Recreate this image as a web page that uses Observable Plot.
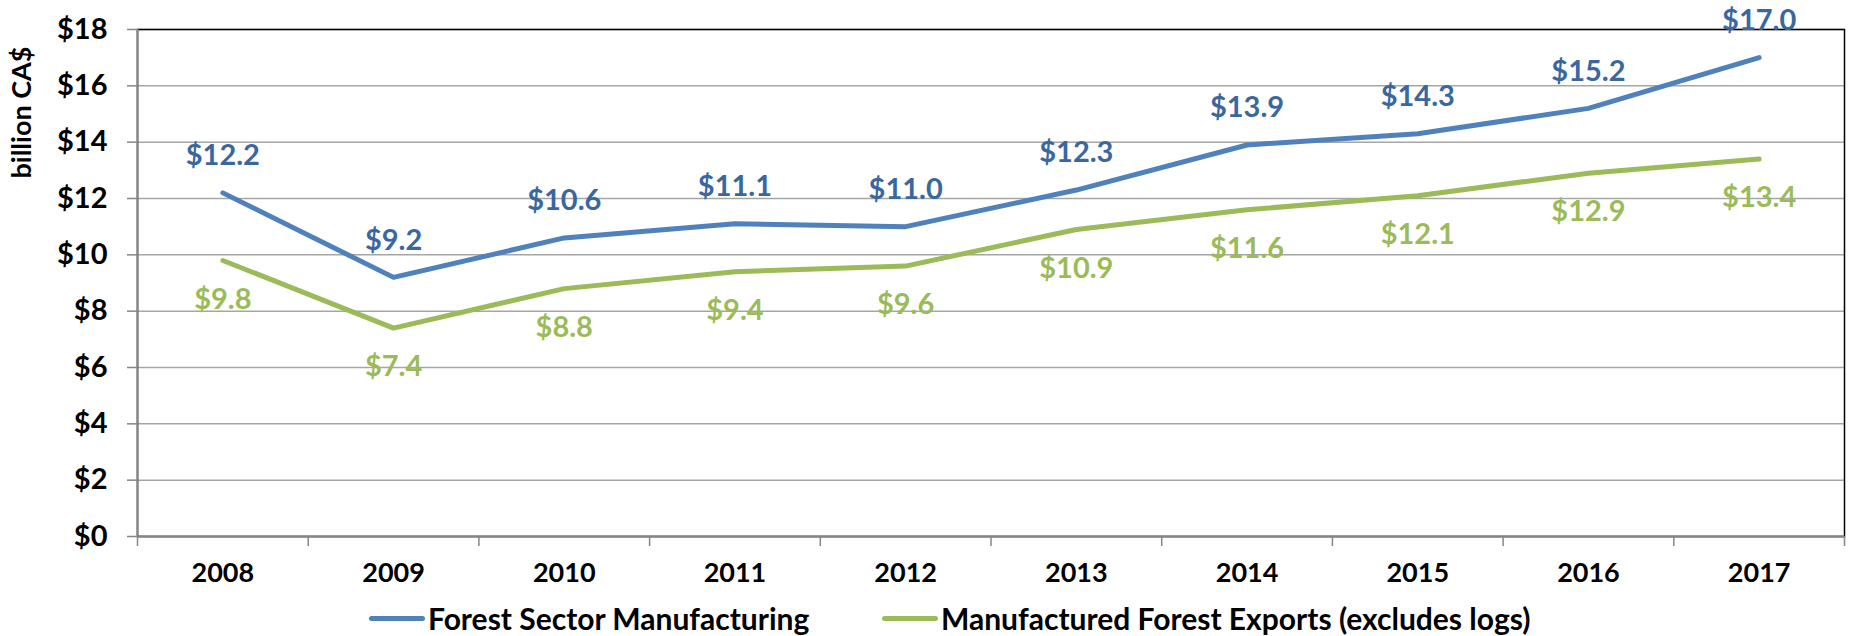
<!DOCTYPE html>
<html>
<head>
<meta charset="utf-8">
<script src="https://cdn.jsdelivr.net/npm/d3@7"></script>
<script src="https://cdn.jsdelivr.net/npm/@observablehq/plot@0.6"></script>
<style>
  html, body { margin: 0; padding: 0; background: #fff; overflow: hidden; }
  #chart { width: 1849px; height: 636px; position: relative; }
  #legend { position: relative; height: 36px; font: 700 30px Lato, sans-serif; color: #000; }
  .item { position: absolute; top: 0; height: 36px; display: flex; align-items: center; white-space: nowrap; }
  .sw { width: 56px; height: 5px; border-radius: 3px; margin-right: 3px; }
</style>
</head>
<body>
<div id="chart"></div>
<script>
const years = [2008, 2009, 2010, 2011, 2012, 2013, 2014, 2015, 2016, 2017];
const forestSectorManufacturing = [12.2, 9.2, 10.6, 11.1, 11.0, 12.3, 13.9, 14.3, 15.2, 17.0];
const manufacturedForestExports = [9.8, 7.4, 8.8, 9.4, 9.6, 10.9, 11.6, 12.1, 12.9, 13.4];
const yTicks = [0, 2, 4, 6, 8, 10, 12, 14, 16, 18];
const seriesNames = ["Forest Sector Manufacturing", "Manufactured Forest Exports (excludes logs)"];
const lineColors = ["#4F81BD", "#9BBB59"];
const labelColors = ["#3A679E", "#9BBB59"];

const blue = years.map((year, i) => ({year, value: forestSectorManufacturing[i]}));
const green = years.map((year, i) => ({year, value: manufacturedForestExports[i]}));
const bounds = [years[0] - 0.5, ...years.map(y => y + 0.5)];
const fmt = v => "$" + v.toFixed(1);

const svg = Plot.plot({
  width: 1849,
  height: 600,
  marginTop: 29,
  marginLeft: 137,
  marginRight: 5,
  marginBottom: 64,
  x: {domain: [bounds[0], bounds[bounds.length - 1]]},
  y: {domain: [0, 18]},
  style: {fontFamily: "Lato, sans-serif", fontWeight: 700, fontSize: "29px", background: "white", color: "black"},
  marks: [
    Plot.gridY(yTicks, {stroke: "#A6A6A6", strokeOpacity: 1, strokeWidth: 1.5}),
    Plot.frame({stroke: "black", strokeWidth: 1.5}),
    Plot.ruleX([bounds[0]], {stroke: "#868686", strokeWidth: 2}),
    Plot.ruleY([0], {stroke: "#868686", strokeWidth: 2}),
    Plot.axisY({ticks: yTicks, tickSize: 10, tickPadding: 20, tickFormat: d => "$" + d, stroke: "#868686", strokeWidth: 1.5, label: null, fill: "black", fontSize: 29}),
    Plot.axisX({ticks: bounds, tickSize: 10, tickFormat: () => "", stroke: "#868686", strokeWidth: 1.5, label: null}),
    Plot.axisX({ticks: years, tickSize: 0, tickPadding: 26, tickFormat: d => String(d), label: null, fill: "black", fontSize: 27}),
    Plot.line(blue, {x: "year", y: "value", stroke: lineColors[0], strokeWidth: 5, strokeLinecap: "round", strokeLinejoin: "round"}),
    Plot.line(green, {x: "year", y: "value", stroke: lineColors[1], strokeWidth: 5, strokeLinecap: "round", strokeLinejoin: "round"}),
    Plot.text(blue, {x: "year", y: "value", text: d => fmt(d.value), dy: -37, fill: labelColors[0], fontSize: 29, fontWeight: 700}),
    Plot.text(green, {x: "year", y: "value", text: d => fmt(d.value), dy: 39, fill: labelColors[1], fontSize: 29, fontWeight: 700}),
    Plot.text(["billion CA$"], {text: d => d, frameAnchor: "top-left", rotate: -90, dx: -115, dy: 83, fontSize: 27, fontWeight: 700, fill: "black", textAnchor: "middle", lineAnchor: "middle"})
  ]
});

const chart = document.getElementById("chart");
chart.appendChild(svg);

const legend = document.createElement("div");
legend.id = "legend";
const lefts = [369, 882];
seriesNames.forEach((name, i) => {
  const item = document.createElement("div");
  item.className = "item";
  item.style.left = lefts[i] + "px";
  const sw = document.createElement("span");
  sw.className = "sw";
  sw.style.background = lineColors[i];
  const tx = document.createElement("span");
  tx.textContent = name;
  item.appendChild(sw);
  item.appendChild(tx);
  legend.appendChild(item);
});
chart.appendChild(legend);
</script>
</body>
</html>
